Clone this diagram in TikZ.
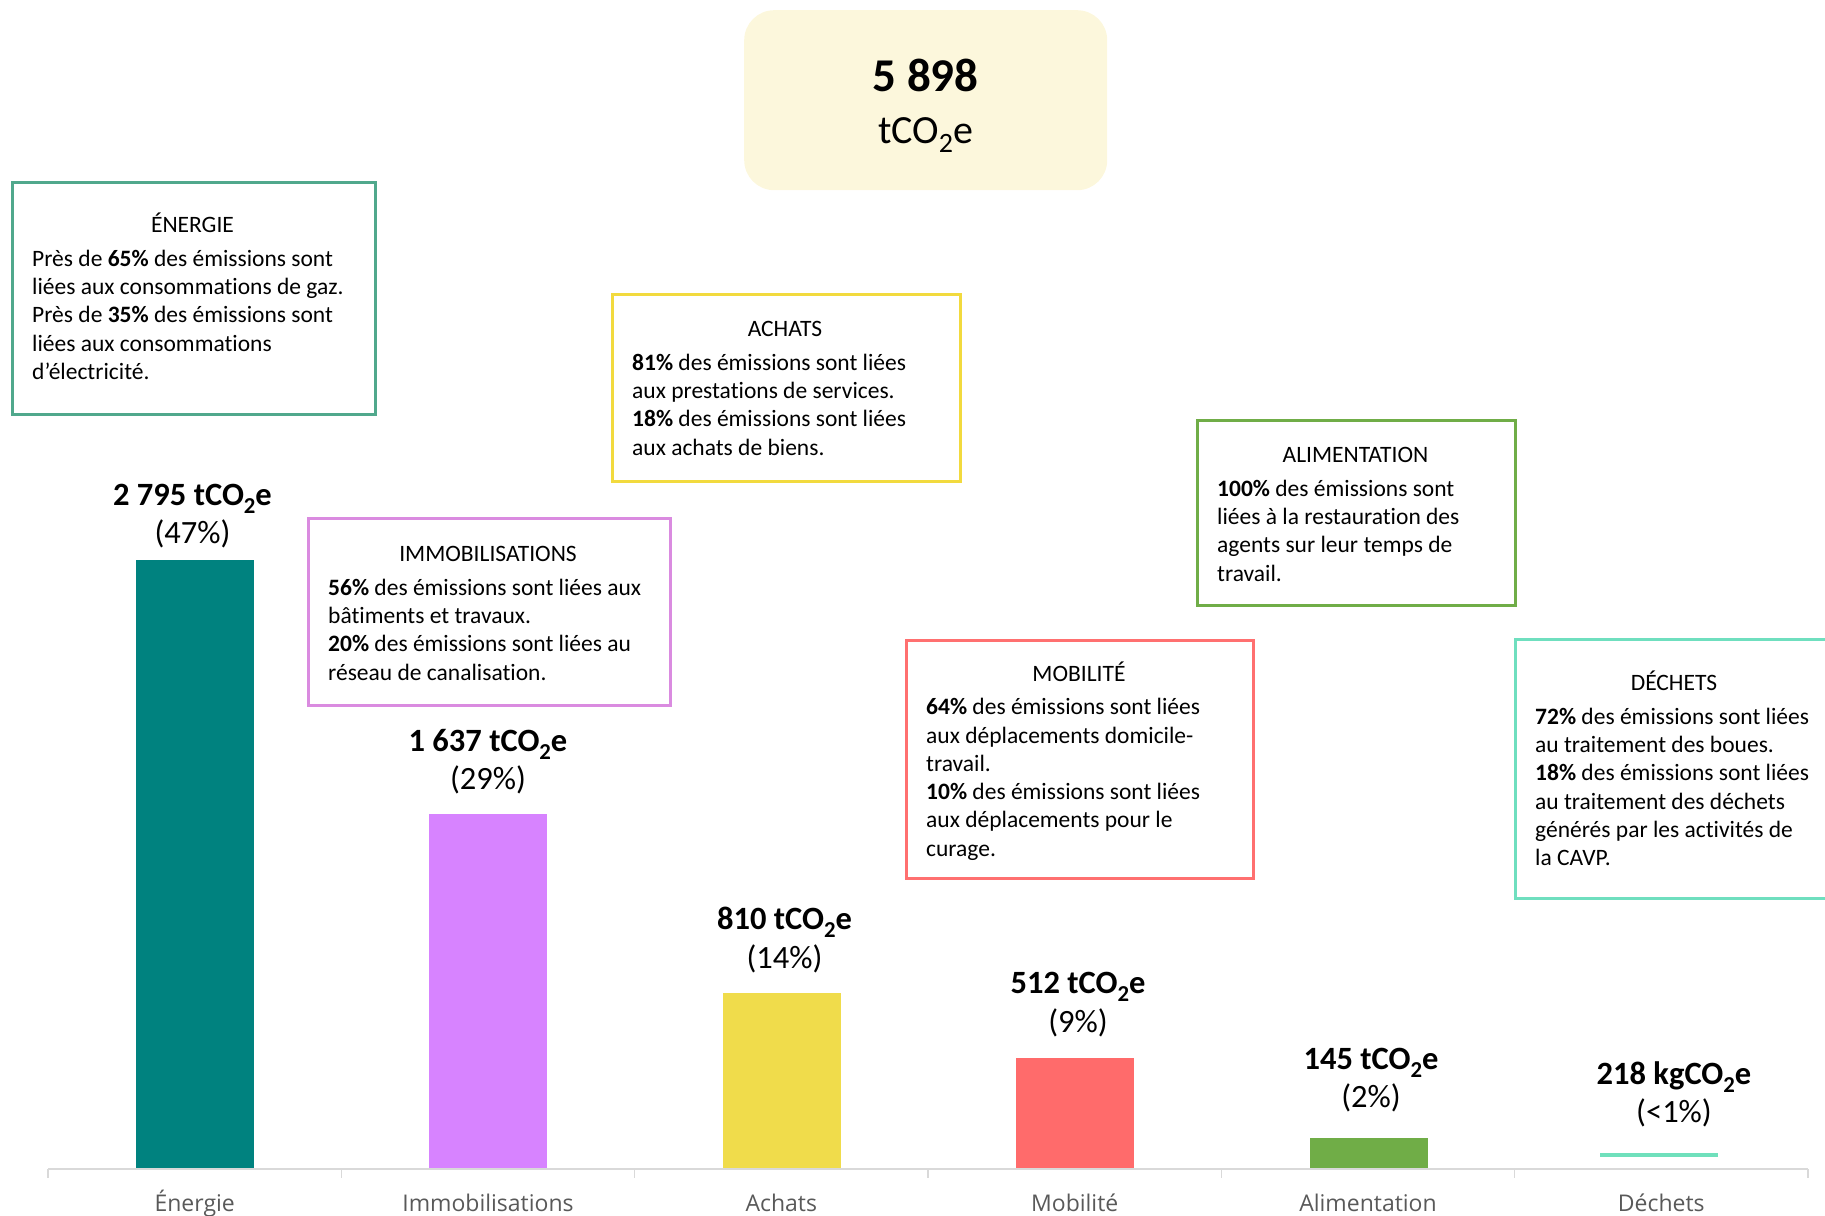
\documentclass[tikz,border=0pt]{standalone}
\usepackage{fontspec}
\setmainfont{Carlito}[Ligatures=NoCommon]
\newfontfamily\axisfont{Open Sans}
\definecolor{enC}{HTML}{50A88C}
\definecolor{enB}{HTML}{00827F}
\definecolor{imC}{HTML}{DA8BE0}
\definecolor{imB}{HTML}{D783FF}
\definecolor{acC}{HTML}{F2DA3E}
\definecolor{acB}{HTML}{F0DC4B}
\definecolor{moC}{HTML}{FF7070}
\definecolor{moB}{HTML}{FF6B6B}
\definecolor{alC}{HTML}{70AD47}
\definecolor{alB}{HTML}{70AD47}
\definecolor{deC}{HTML}{6FDFBF}
\definecolor{deB}{HTML}{6FE0BC}
\definecolor{cream}{HTML}{FCF7DC}
\definecolor{axisgray}{HTML}{D9D9D9}
\definecolor{labgray}{HTML}{595959}
\newcommand{\subtwo}{\raisebox{-0.5ex}{\fontsize{0.7em}{1em}\selectfont 2}}
\begin{document}
\begin{tikzpicture}[x=1pt,y=-1pt,
  infobox/.style={draw=#1, line width=2.6pt, fill=none, inner sep=0pt, anchor=north west},
  boxtitle/.style={inner sep=0pt, anchor=base, font=\fontsize{23.5}{28.3}\selectfont},
  boxbody/.style={inner sep=0pt, anchor=north west, align=left, font=\fontsize{23.5}{28.3}\selectfont},
  bar/.style={draw=none, fill=#1, inner sep=0pt, minimum width=118pt, anchor=south},
  vallabel/.style={inner sep=0pt, anchor=north, align=center, font=\fontsize{32.5}{38.5}\selectfont},
  axislab/.style={inner sep=0pt, anchor=base, text=labgray, font=\axisfont\fontsize{23}{27}\selectfont},
  axisline/.style={draw=axisgray, line width=2.5pt},
  tickline/.style={draw=axisgray, line width=1.5pt}
]
\useasboundingbox (0,0) rectangle (1825,1215);
\clip (0,0) rectangle (1825,1215);

% total box
\node[draw=none, fill=cream, rounded corners=30pt, minimum width=363pt, minimum height=180pt, anchor=north west, inner sep=0pt] (total) at (744,10) {};
\node[inner sep=0pt, anchor=base, font=\fontsize{47}{56}\selectfont\bfseries] (totnum) at (925.5,92) {5 898};
\node[inner sep=0pt, anchor=base, font=\fontsize{40}{48}\selectfont] (totunit) at (925.5,143) {tCO\subtwo e};

% ENERGIE
\node[infobox=enC, minimum width=363pt, minimum height=232pt] (enbox) at (11,181) {};
\node[boxtitle] (entitle) at (192.5,232) {ÉNERGIE};
\node[boxbody] (enbody) at (32,246.2) {\strut Près de \textbf{65\%} des émissions sont\\ liées aux consommations de gaz.\\ Près de \textbf{35\%} des émissions sont\\ liées aux consommations\\ d’électricité.};

% ACHATS
\node[infobox=acC, minimum width=348pt, minimum height=187pt] (acbox) at (611,293) {};
\node[boxtitle] (actitle) at (785,336) {ACHATS};
\node[boxbody] (acbody) at (632,350.2) {\strut\textbf{81\%} des émissions sont liées\\ aux prestations de services.\\ \textbf{18\%} des émissions sont liées\\ aux achats de biens.};

% IMMOBILISATIONS
\node[infobox=imC, minimum width=362pt, minimum height=187pt] (imbox) at (307,517) {};
\node[boxtitle] (imtitle) at (488,561) {IMMOBILISATIONS};
\node[boxbody] (imbody) at (328,575.2) {\strut\textbf{56\%} des émissions sont liées aux\\ bâtiments et travaux.\\ \textbf{20\%} des émissions sont liées au\\ réseau de canalisation.};

% ALIMENTATION
\node[infobox=alC, minimum width=318pt, minimum height=185pt] (albox) at (1196,419) {};
\node[boxtitle] (altitle) at (1355.5,462) {ALIMENTATION};
\node[boxbody] (albody) at (1217,476.2) {\strut\textbf{100\%} des émissions sont\\ liées à la restauration des\\ agents sur leur temps de\\ travail.};

% MOBILITE
\node[infobox=moC, minimum width=347pt, minimum height=238pt] (mobox) at (905,639) {};
\node[boxtitle] (motitle) at (1079,681) {MOBILITÉ};
\node[boxbody] (mobody) at (926,694.7) {\strut\textbf{64\%} des émissions sont liées\\ aux déplacements domicile-\\ travail.\\ \textbf{10\%} des émissions sont liées\\ aux déplacements pour le\\ curage.};

% DECHETS
\node[infobox=deC, minimum width=322pt, minimum height=259pt] (debox) at (1514,638) {};
\node[boxtitle] (detitle) at (1674,690) {DÉCHETS};
\node[boxbody] (debody) at (1535,704.2) {\strut\textbf{72\%} des émissions sont liées\\ au traitement des boues.\\ \textbf{18\%} des émissions sont liées\\ au traitement des déchets\\ générés par les activités de\\ la CAVP.};

% axis
\coordinate (axl) at (48,1169);
\coordinate (axr) at (1808,1169);
\foreach \i/\x in {0/48,1/341.3,2/634.7,3/928,4/1221.3,5/1514.7,6/1808}{
  \coordinate (tt\i) at (\x,1169);
  \coordinate (tb\i) at (\x,1178);
  \draw[tickline] (tt\i) -- (tb\i);
}
\draw[axisline] (axl) -- (axr);

% bars
\node[bar=enB, minimum height=608pt] (enbar) at (195,1168) {};
\node[bar=imB, minimum height=354pt] (imbar) at (488,1168) {};
\node[bar=acB, minimum height=175pt] (acbar) at (781.5,1168) {};
\node[bar=moB, minimum height=110pt] (mobar) at (1075,1168) {};
\node[bar=alB, minimum height=30pt] (albar) at (1368.5,1168) {};
\node[bar=deB, minimum height=4pt] (debar) at (1659,1157) {};

% value labels
\node[vallabel] (enval) at (192.5,478) {\strut\textbf{2 795 tCO\subtwo e}\\(47\%)};
\node[vallabel] (imval) at (488,724) {\strut\textbf{1 637 tCO\subtwo e}\\(29\%)};
\node[vallabel] (acval) at (784.5,902.5) {\strut\textbf{810 tCO\subtwo e}\\(14\%)};
\node[vallabel] (moval) at (1078,966.5) {\strut\textbf{512 tCO\subtwo e}\\(9\%)};
\node[vallabel] (alval) at (1371,1042) {\strut\textbf{145 tCO\subtwo e}\\(2\%)};
\node[vallabel] (deval) at (1674,1057) {\strut\textbf{218 kgCO\subtwo e}\\(<1\%)};

% axis labels
\node[axislab] (enlab) at (194.7,1211) {Énergie};
\node[axislab] (imlab) at (488,1211) {Immobilisations};
\node[axislab] (aclab) at (781.3,1211) {Achats};
\node[axislab] (molab) at (1074.7,1211) {Mobilité};
\node[axislab] (allab) at (1368,1211) {Alimentation};
\node[axislab] (delab) at (1661.3,1211) {Déchets};
\end{tikzpicture}
\end{document}
